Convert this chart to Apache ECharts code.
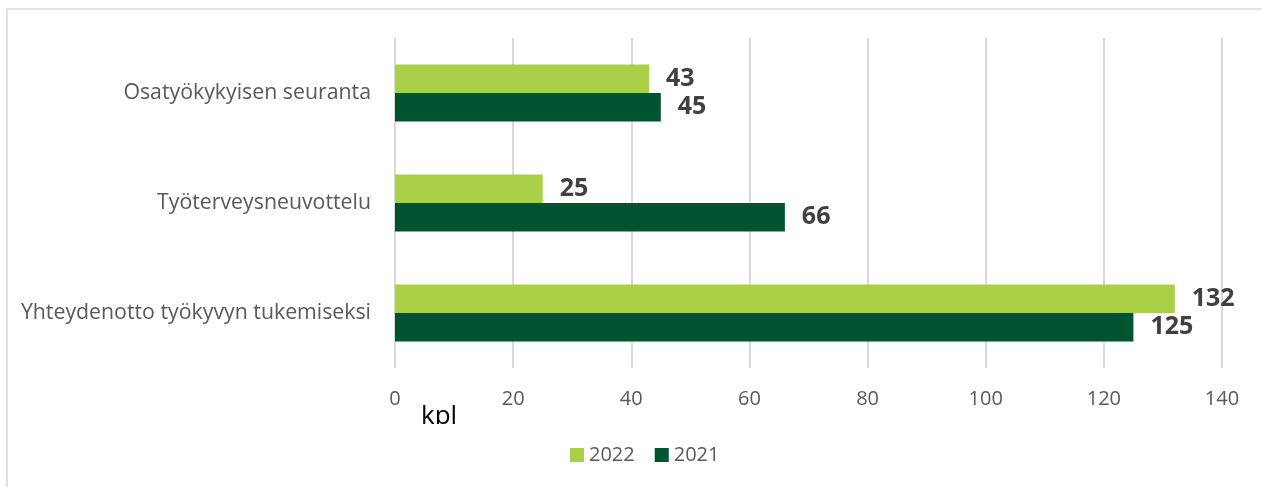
<!DOCTYPE html>
<html>
<head>
<meta charset="utf-8">
<script src="https://cdn.jsdelivr.net/npm/echarts@6/dist/echarts.min.js"></script>
<style>
html,body{margin:0;padding:0;background:#fff;}
#chart{width:1262px;height:487px;}
</style>
</head>
<body>
<div id="chart"></div>
<script>
var categories = ['Osatyökykyisen seuranta', 'Työterveysneuvottelu', 'Yhteydenotto työkyvyn tukemiseksi'];
var values2022 = [43, 25, 132];
var values2021 = [45, 66, 125];
var seriesNames = ['2022', '2021'];
var axisUnit = 'kpl';

var chart = echarts.init(document.getElementById('chart'));
var font = '"Open Sans", "Liberation Sans", sans-serif';
var labelStyle = {
  show: true, position: 'right', distance: 17,
  fontFamily: font, fontWeight: 'bold', fontSize: 25, color: '#404040'
};
chart.setOption({
  animation: false,
  backgroundColor: '#fff',
  grid: { left: 395, right: 40, top: 38, bottom: 119 },
  legend: {
    data: seriesNames,
    left: 565, top: 440,
    icon: 'rect', itemWidth: 14, itemHeight: 14, itemGap: 20,
    textStyle: { fontFamily: font, fontSize: 20, color: '#595959' }
  },
  xAxis: {
    type: 'value', min: 0, max: 140, interval: 20,
    axisLine: { show: false }, axisTick: { show: false },
    axisLabel: { fontFamily: font, fontSize: 20, color: '#595959', margin: 21 },
    splitLine: { lineStyle: { color: '#d9d9d9', width: 2 } }
  },
  yAxis: {
    type: 'category', data: categories, inverse: true,
    axisLine: { show: false }, axisTick: { show: false },
    axisLabel: { fontFamily: font, fontSize: 21.3, color: '#595959', margin: 24 }
  },
  series: [
    { name: seriesNames[0], type: 'bar', data: values2022, barGap: '0%', barCategoryGap: '48%',
      itemStyle: { color: '#a9d047' }, label: labelStyle },
    { name: seriesNames[1], type: 'bar', data: values2021, barGap: '0%', barCategoryGap: '48%',
      itemStyle: { color: '#005331' }, label: labelStyle }
  ],
  graphic: [
    { type: 'polyline', shape: { points: [[7, 487], [7, 9], [1262, 9]] },
      style: { stroke: '#d9d9d9', lineWidth: 1.5, fill: null }, z: 10 },
    { type: 'text', left: 421, top: 404, z: 10,
      style: { text: axisUnit, fontFamily: font, fontSize: 26, fill: '#000' } },
    { type: 'rect', shape: { x: 410, y: 424, width: 60, height: 18 },
      style: { fill: '#fff' }, z: 11 }
  ]
});
</script>
</body>
</html>
